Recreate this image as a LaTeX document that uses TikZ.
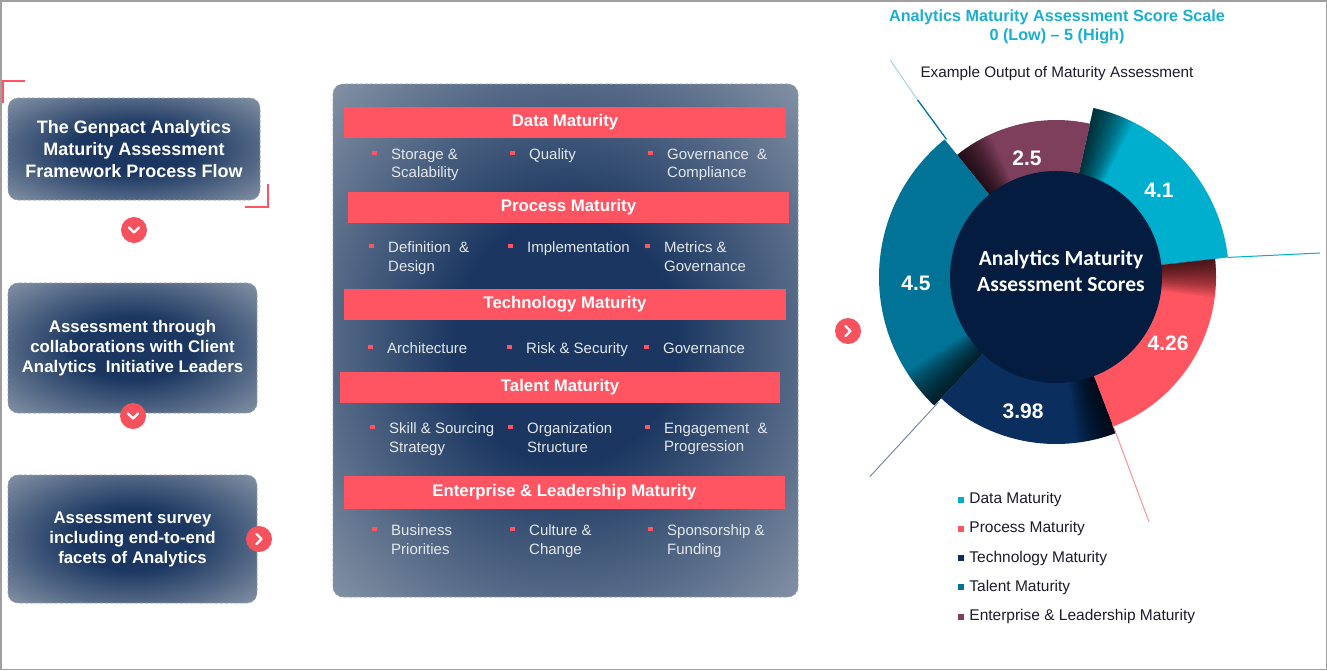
\documentclass[tikz,border=0pt]{standalone}
\usepackage{fontspec}
\setmainfont{Liberation Sans}
\newfontfamily\calfont{Carlito}
\usetikzlibrary{positioning,calc}
\definecolor{barred}{RGB}{255,84,98}
\definecolor{chevred}{RGB}{245,82,94}
\definecolor{pnavy}{RGB}{27,55,97}
\definecolor{plight}{RGB}{133,147,166}
\definecolor{pedge}{RGB}{72,93,125}
\definecolor{dashgray}{RGB}{150,158,170}
\definecolor{itemgray}{RGB}{228,232,237}
\definecolor{titlecyan}{RGB}{26,175,208}
\definecolor{segcyan}{RGB}{0,174,205}
\definecolor{segpurple}{RGB}{126,63,92}
\definecolor{segteal}{RGB}{0,115,150}
\definecolor{segnavy}{RGB}{10,47,94}
\definecolor{segred}{RGB}{255,85,96}
\definecolor{corenavy}{RGB}{4,28,64}
\definecolor{legtext}{RGB}{28,28,44}
\pgfdeclareradialshading{panelshade}{\pgfpoint{0bp}{0bp}}{color(0bp)=(pnavy); color(12bp)=(pnavy); color(36bp)=(plight); color(52bp)=(pedge); color(72bp)=(pedge)}
\newcommand\fitem[4]{%
  \node[itm] (#1) at (#2,#3) {#4};
  \fill[barred] ([shift={(-19,2)}]#1.north west) rectangle ++(4.5,4.5);}

\begin{document}
\begin{tikzpicture}[x=1pt,y=-1pt,
  panel/.style={draw=dashgray,densely dashed,line width=0.6pt,rounded corners=10pt,shading=panelshade,text=white,align=center,inner sep=0},
  stepbox/.style={panel,font=\bfseries\fontsize{16.8}{20}\selectfont},
  bar/.style={fill=barred,text=white,font=\bfseries\fontsize{16.8}{20}\selectfont,minimum height=31pt,inner sep=0},
  itm/.style={anchor=north west,inner sep=0,align=left,text=itemgray,font=\fontsize{15}{18.5}\selectfont},
  dot/.style={circle,fill=chevred,minimum size=26pt,inner sep=0},
  chev/.style={draw=white,line width=2.3pt,line cap=round,line join=round},
  val/.style={text=white,font=\bfseries\fontsize{21}{24}\selectfont},
  legsq/.style={minimum size=6pt,inner sep=0},
  legtxt/.style={text=legtext,font=\fontsize{15.5}{18}\selectfont,inner sep=0}]
\useasboundingbox (0,0) rectangle (1327,670);
\fill[white] (0,0) rectangle (1327,670);
\draw[gray!75,line width=1.5pt] (0.75,0.75) rectangle (1326.25,669.25);

% process flow
\node[panel,minimum width=252pt,minimum height=102pt,font=\bfseries\fontsize{18}{22}\selectfont] (intro) at (134,149) {The Genpact Analytics\\Maturity Assessment\\Framework Process Flow};
\draw[barred,line width=1.2pt] (3,103) -- (3,81) -- (25,81);
\draw[barred,line width=1.2pt] (245,207) -- (268,207) -- (268,184);
\node[stepbox,minimum width=249pt,minimum height=130pt] (collab) at (132.5,348) {Assessment through\\collaborations with Client\\Analytics \ Initiative Leaders};
\node[stepbox,minimum width=249pt,minimum height=128pt] (survey) at (132.5,539) {Assessment survey\\including end-to-end\\facets of Analytics};
\node[dot] (d1) at (134,230) {};
\node[dot] (d2) at (133,416) {};
\node[dot] (d3) at (259,539) {};
\node[dot] (d4) at (848,331) {};
\draw[chev] ([shift={(-5,-2.5)}]d1.center) -- ++(5,5) -- ++(5,-5);
\draw[chev] ([shift={(-5,-2.5)}]d2.center) -- ++(5,5) -- ++(5,-5);
\draw[chev] ([shift={(-2.5,-5)}]d3.center) -- ++(5,5) -- ++(-5,5);
\draw[chev] ([shift={(-2.5,-5)}]d4.center) -- ++(5,5) -- ++(-5,5);

% maturity dimensions
\node[panel,minimum width=465pt,minimum height=513pt] (dims) at (565.5,340.5) {};
\node[bar,minimum width=442pt] (data) at (565,122.5) {Data Maturity};
\node[bar,minimum width=441pt] (proc) at (568.5,207.5) {Process Maturity};
\node[bar,minimum width=442pt] (tech) at (565,304.5) {Technology Maturity};
\node[bar,minimum width=440pt] (tal) at (560,387.5) {Talent Maturity};
\node[bar,minimum width=441pt,minimum height=33pt] (ent) at (564.5,492.5) {Enterprise \& Leadership Maturity};
\fitem{d-a}{391}{148.5}{Storage \&\\Scalability}
\fitem{d-b}{529}{148.5}{Quality}
\fitem{d-c}{667}{148.5}{Governance \ \&\\Compliance}
\fitem{p-a}{388}{241.5}{Definition \ \&\\Design}
\fitem{p-b}{527}{241.5}{Implementation}
\fitem{p-c}{664}{241.5}{Metrics \&\\Governance}
\fitem{t-a}{387}{342.5}{Architecture}
\fitem{t-b}{526}{342.5}{Risk \& Security}
\fitem{t-c}{663}{342.5}{Governance}
\fitem{l-a}{389}{422.5}{Skill \& Sourcing\\Strategy}
\fitem{l-b}{527}{422.5}{Organization\\Structure}
\fitem{l-c}{664}{422.5}{Engagement \ \&\\Progression}
\fitem{e-a}{391}{524.5}{Business\\Priorities}
\fitem{e-b}{529}{524.5}{Culture \&\\Change}
\fitem{e-c}{667}{524.5}{Sponsorship \&\\Funding}

% score chart
\node[text=titlecyan,font=\bfseries\fontsize{16.2}{19}\selectfont,align=center] (scale) at (1057,27) {Analytics Maturity Assessment Score Scale\\0 (Low) -- 5 (High)};
\node[font=\fontsize{15.3}{17}\selectfont,text=legtext] (example) at (1057,74) {Example Output of Maturity Assessment};
\begin{scope}[shift={(1056,277)},yscale=-1]
  \foreach \a/\b/\r/\c in {6.5/77.5/173/segcyan,77.5/129/157/segpurple,129/226.5/177/segteal,226.5/291/167/segnavy,291/366.5/160/segred}{
    \fill[\c] (0,0) -- (\a:\r) arc[start angle=\a,end angle=\b,radius=\r] -- cycle;
    \foreach \k in {1,...,20}
      \fill[black,opacity=0.055] (0,0) -- (\b-0.7*\k:\r) arc[start angle=\b-0.7*\k,end angle=\b,radius=\r] -- cycle;
  }
  \draw[segteal,line width=1.3pt] (128.5:176) -- (128:225);
  \draw[segteal!35,line width=0.9pt] (128:225) -- (127.4:273);
  \draw[segcyan,line width=1pt] (6.5:173) -- (5.2:265);
  \draw[segred!70,line width=0.9pt] (-69:158) -- (-69.2:262);
  \draw[segnavy!60,line width=0.9pt] (226.8:172) -- (227:273);
\end{scope}
\node[circle,fill=corenavy,minimum size=212pt,inner sep=0] (core) at (1056,277) {};
\node[text=white,align=center,font=\calfont\bfseries\fontsize{21.5}{26}\selectfont] (coretxt) at (1061,271) {Analytics Maturity\\Assessment Scores};
\node[val] (v-data) at (1159,190) {4.1};
\node[val] (v-ent) at (1027,158) {2.5};
\node[val] (v-tal) at (916,283) {4.5};
\node[val] (v-tech) at (1023,411) {3.98};
\node[val] (v-proc) at (1168,343) {4.26};
\foreach \c/\t [count=\i] in {segcyan/Data Maturity,segred/Process Maturity,segnavy/Technology Maturity,segteal/Talent Maturity,segpurple/Enterprise \& Leadership Maturity}{
  \node[legsq,fill=\c] (sq\i) at (961,{470.5+29.2*\i}) {};
  \node[legtxt,right=5pt of sq\i] (lg\i) {\t};
}
\end{tikzpicture}
\end{document}
